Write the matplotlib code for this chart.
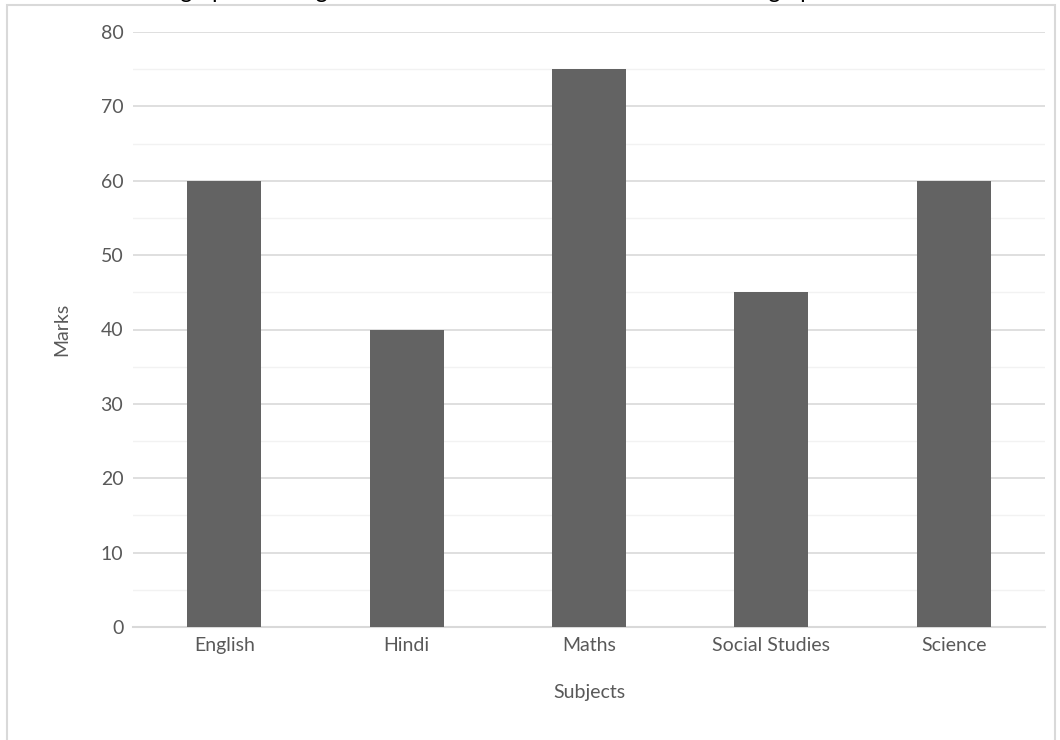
import matplotlib.pyplot as plt
from matplotlib.patches import Rectangle
import numpy as np

subjects = ["English", "Hindi", "Maths", "Social Studies", "Science"]
marks = [60, 40, 75, 45, 60]

major_ticks = [0, 10, 20, 30, 40, 50, 60, 70, 80]
minor_ticks = [5, 15, 25, 35, 45, 55, 65, 75]

text_color = "#595959"
bar_color = "#636363"

plt.rcParams["font.family"] = ["Lato", "DejaVu Sans"]

fig = plt.figure(figsize=(10.6, 7.4), dpi=100)
ax = fig.add_axes([133 / 1060, 1 - 627 / 740, 912 / 1060, 595 / 740])

x = np.arange(len(subjects))
ax.bar(x, marks, width=0.405, color=bar_color, zorder=3)

ax.set_xlim(-0.5, len(subjects) - 0.5)
ax.set_ylim(0, 80)
ax.set_yticks(major_ticks)
ax.set_yticks(minor_ticks, minor=True)
ax.set_xticks(x)
ax.set_xticklabels(subjects)

ax.grid(axis="y", which="major", color="#d9d9d9", linewidth=1.2, zorder=0)
ax.grid(axis="y", which="minor", color="#f2f2f2", linewidth=1.0, zorder=0)
ax.tick_params(axis="both", which="both", length=0, labelsize=14, labelcolor=text_color)
ax.tick_params(axis="y", pad=7)
ax.tick_params(axis="x", pad=7)
for side in ["top", "right", "left"]:
    ax.spines[side].set_visible(False)
ax.spines["bottom"].set_color("#d9d9d9")
ax.spines["bottom"].set_linewidth(1.5)

ax.set_ylabel("Marks", fontsize=14, color=text_color, labelpad=22)
ax.set_xlabel("Subjects", fontsize=14, color=text_color, labelpad=22)

# outer chart border
fig.patches.append(Rectangle((7 / 1060, -0.1), 1048 / 1060, 1.1 - 5 / 740,
                             transform=fig.transFigure, fill=False,
                             edgecolor="#d9d9d9", linewidth=1.5))

# title, cut off at the top of the picture as in the original
fig.text(140 / 1060, 1 + 2 / 740, "Bar graph showing the marks in the five school exams as a bar graph",
         fontsize=16.5, color="black", ha="left", va="baseline")

fig.savefig("out.png", dpi=100)
